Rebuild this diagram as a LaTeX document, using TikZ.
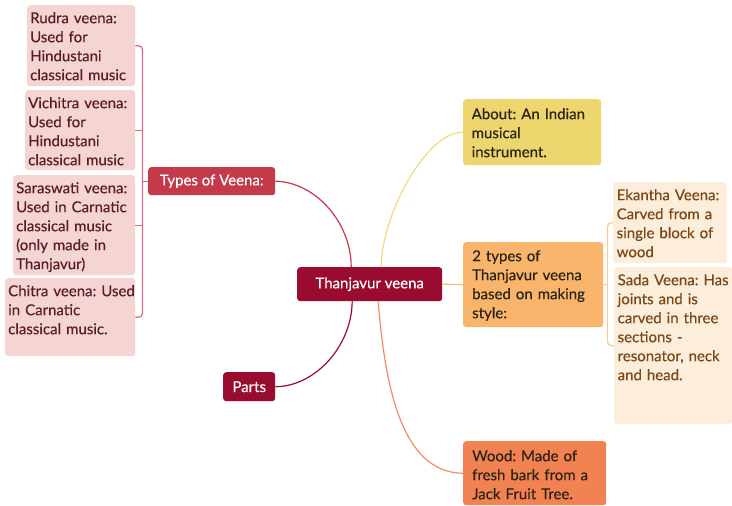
\documentclass[tikz,border=0pt]{standalone}
\usepackage{fontspec}
\setmainfont{Lato}[FakeBold=0.35]
\frenchspacing
\definecolor{pinkfill}{HTML}{F5D4D4}
\definecolor{pinktext}{HTML}{5B1C26}
\definecolor{crimson}{HTML}{C53A4B}
\definecolor{darkred}{HTML}{990B2F}
\definecolor{yellowfill}{HTML}{EED66E}
\definecolor{orangefill}{HTML}{F9B56B}
\definecolor{creamfill}{HTML}{FDEEDC}
\definecolor{browntext}{HTML}{7A4716}
\definecolor{woodfill}{HTML}{F38253}
\definecolor{bracketL}{HTML}{D86D7B}
\definecolor{bracketR}{HTML}{FBC993}
\definecolor{yline}{HTML}{F3D97E}
\definecolor{oline}{HTML}{FBBA75}
\definecolor{wline}{HTML}{F58B5E}
\definecolor{darktext}{HTML}{2B2415}
\newcommand{\oneline}[1]{\mbox{#1}}
\tikzset{
  x=1pt,y=-1pt,
  every node/.style={font=\fontsize{15}{19}\selectfont},
  leaf/.style={draw=none, rounded corners=3pt, anchor=north west, align=left, inner ysep=0pt},
  pinkbox/.style={leaf, fill=pinkfill, text=pinktext, inner xsep=3pt},
  creambox/.style={leaf, fill=creamfill, text=browntext, inner xsep=3.5pt},
  mainbox/.style={rounded corners=3pt, text=white, align=center, inner sep=0pt},
  conn/.style={line width=1.2pt},
}
\begin{document}
\begin{tikzpicture}
\useasboundingbox (0,0) rectangle (732,506);
% left leaves
\node[pinkbox, text width=102pt, text height=18pt, text depth=63pt] (rudra) at (27,5)
  {\oneline{Rudra veena:}\\\oneline{Used for}\\\oneline{Hindustani}\\\oneline{classical music}};
\node[pinkbox, text width=104pt, text height=18pt, text depth=62pt] (vichitra) at (25,90)
  {\oneline{Vichitra veena:}\\\oneline{Used for}\\\oneline{Hindustani}\\\oneline{classical music}};
\node[pinkbox, text width=116pt, text height=18pt, text depth=82pt] (saraswati) at (13,175)
  {\oneline{Saraswati veena:}\\\oneline{Used in Carnatic}\\\oneline{classical music}\\\oneline{(only made in}\\\oneline{Thanjavur)}};
\node[pinkbox, text width=124pt, text height=18pt, text depth=60pt] (chitra) at (5,278)
  {\oneline{Chitra veena: Used}\\\oneline{in Carnatic}\\\oneline{classical music.}};
% main nodes
\node[mainbox, fill=crimson, minimum width=127pt, minimum height=28pt, anchor=north west] (types) at (148,167) {Types of Veena:};
\node[mainbox, fill=darkred, minimum width=145pt, minimum height=34pt, anchor=north west] (center) at (297,267) {Thanjavur veena};
\node[mainbox, fill=darkred, minimum width=52pt, minimum height=29pt, anchor=north west] (parts) at (223,372) {Parts};
% right nodes
\node[leaf, fill=yellowfill, text=darktext, inner xsep=8.5pt, text width=121pt, text height=20pt, text depth=46pt] (about) at (463,99)
  {\oneline{About: An Indian}\\\oneline{musical}\\\oneline{instrument.}};
\node[leaf, fill=orangefill, text=darktext, inner xsep=9pt, text width=122pt, text height=19pt, text depth=66pt] (twotypes) at (463,242)
  {\oneline{2 types of}\\\oneline{Thanjavur veena}\\\oneline{based on making}\\\oneline{style:}};
\node[creambox, text width=107pt, text height=18pt, text depth=63pt] (ekantha) at (613,182)
  {\oneline{Ekantha Veena:}\\\oneline{Carved from a}\\\oneline{single block of}\\\oneline{wood}};
\node[creambox, text width=111pt, text height=18pt, text depth=139pt] (sada) at (614,267)
  {\oneline{Sada Veena: Has}\\\oneline{joints and is}\\\oneline{carved in three}\\\oneline{sections -}\\\oneline{resonator, neck}\\\oneline{and head.}};
\node[leaf, fill=woodfill, text=darktext, inner xsep=9pt, text width=125pt, text height=20pt, text depth=44pt] (wood) at (463,441)
  {\oneline{Wood: Made of}\\\oneline{fresh bark from a}\\\oneline{Jack Fruit Tree.}};
% left bracket
\coordinate (lb) at (142.5,181);
\draw[conn, bracketL, rounded corners=4pt] (rudra.east) -- (rudra.east -| lb) -- (chitra.east -| lb) -- (chitra.east);
\draw[conn, bracketL] (vichitra.east) -- (vichitra.east -| lb);
\draw[conn, bracketL] (saraswati.east) -- (saraswati.east -| lb);
\draw[conn, bracketL] (types.west) -- (types.west -| lb);
% right bracket
\coordinate (rb) at (607.5,284.5);
\draw[conn, bracketR, rounded corners=4pt] (ekantha.west) -- (ekantha.west -| rb) -- (sada.west -| rb) -- (sada.west);
\draw[conn, bracketR] (twotypes.east) -- (rb);
% central connectors
\draw[conn, crimson] (types.east) .. controls (315,182) and ([xshift=-18.5pt,yshift=45pt]center.north) .. ([xshift=-18.5pt]center.north);
\draw[conn, darkred] ([xshift=-17.5pt]center.south) .. controls ([xshift=-18pt,yshift=-45pt]center.south) and (315,386.5) .. (parts.east);
\draw[conn, yline] ([xshift=11.5pt]center.north) .. controls ([xshift=11.5pt,yshift=50pt]center.north) and (425,132) .. (about.west);
\draw[conn, oline] (center.east) -- (twotypes.west);
\draw[conn, wline] ([xshift=8.5pt]center.south) .. controls ([xshift=15pt,yshift=-80pt]center.south) and (400,473) .. (wood.west);
\end{tikzpicture}
\end{document}
